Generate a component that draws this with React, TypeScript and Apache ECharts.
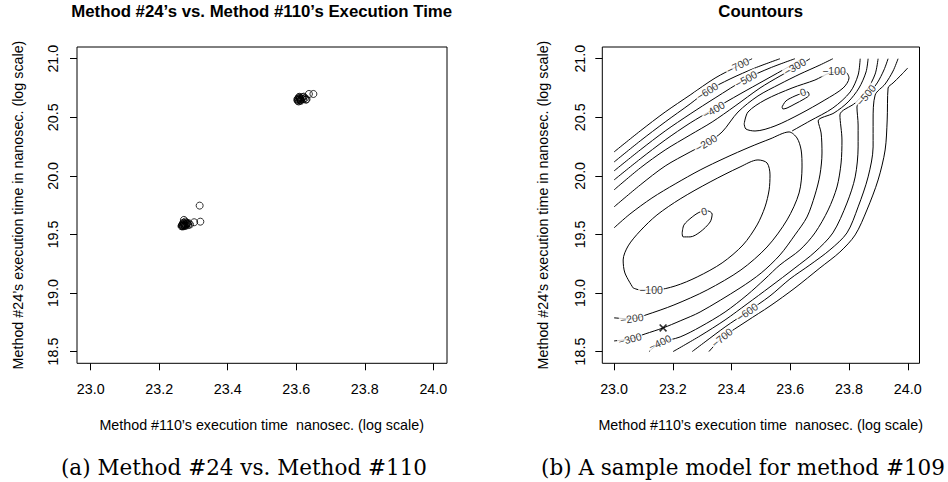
import { useEffect, useRef } from 'react';
import * as echarts from 'echarts';

// ---- axes ----
const xTickValues = [23.0, 23.2, 23.4, 23.6, 23.8, 24.0];
const yTickValues = [18.5, 19.0, 19.5, 20.0, 20.5, 21.0];

// ---- panel (a): observed points ----
const lowerClusterPoints = [
  [23.267, 19.573], [23.270, 19.575], [23.272, 19.580], [23.268, 19.585], [23.275, 19.578],
  [23.278, 19.575], [23.273, 19.590], [23.270, 19.600], [23.272, 19.624], [23.276, 19.610],
  [23.280, 19.590], [23.282, 19.595], [23.285, 19.580], [23.290, 19.585], [23.302, 19.604],
  [23.320, 19.609], [23.318, 19.746], [23.265, 19.570], [23.269, 19.568], [23.274, 19.572],
  [23.277, 19.585], [23.271, 19.595], [23.266, 19.578], [23.279, 19.600], [23.286, 19.596],
];
const upperClusterPoints = [
  [23.604, 20.640], [23.606, 20.648], [23.605, 20.660], [23.608, 20.670], [23.610, 20.655],
  [23.612, 20.645], [23.607, 20.635], [23.611, 20.665], [23.614, 20.650], [23.616, 20.660],
  [23.618, 20.672], [23.620, 20.655], [23.622, 20.676], [23.625, 20.662], [23.628, 20.650],
  [23.630, 20.654], [23.609, 20.675], [23.637, 20.699], [23.650, 20.699], [23.603, 20.652],
  [23.613, 20.640],
];

// ---- panel (b): contour lines (data coordinates) ----
const upperLeft700 = [[23.0, 20.204], [23.089, 20.383], [23.174, 20.545], [23.259, 20.690], [23.344, 20.835], [23.422, 20.938], [23.470, 21.0]];
const upperLeft600 = [[23.0, 20.118], [23.089, 20.298], [23.174, 20.460], [23.259, 20.614], [23.317, 20.724], [23.395, 20.827], [23.480, 20.921], [23.565, 21.0]];
const upperLeft500 = [[23.0, 20.042], [23.089, 20.221], [23.174, 20.383], [23.259, 20.528], [23.344, 20.665], [23.449, 20.827], [23.531, 20.921], [23.616, 21.0]];
const upperLeft400 = [[23.0, 19.965], [23.089, 20.144], [23.174, 20.306], [23.259, 20.451], [23.340, 20.571], [23.429, 20.699], [23.514, 20.818], [23.599, 20.938], [23.640, 21.0]];
const upperLeft300 = [[23.0, 19.880], [23.089, 20.067], [23.174, 20.221], [23.259, 20.349], [23.334, 20.460], [23.412, 20.596], [23.497, 20.750], [23.565, 20.852], [23.616, 20.921], [23.667, 21.0]];
const upperLeft200 = [[23.0, 19.735], [23.089, 19.922], [23.174, 20.084], [23.259, 20.204], [23.317, 20.281], [23.368, 20.375], [23.422, 20.545], [23.490, 20.682], [23.565, 20.784], [23.633, 20.869], [23.701, 20.946], [23.745, 21.0]];
const upperMode100 = [[23.443, 20.443], [23.456, 20.545], [23.514, 20.648], [23.606, 20.750], [23.684, 20.818], [23.735, 20.878], [23.787, 20.887], [23.800, 20.835], [23.780, 20.750], [23.718, 20.648], [23.633, 20.528], [23.548, 20.426], [23.480, 20.383], [23.449, 20.400], [23.443, 20.443]];
const upperMode0 = [[23.572, 20.588], [23.585, 20.639], [23.616, 20.682], [23.643, 20.707], [23.660, 20.716], [23.664, 20.690], [23.647, 20.656], [23.616, 20.614], [23.589, 20.579], [23.575, 20.571], [23.572, 20.588]];
const lowerMode0 = [[23.232, 19.513], [23.238, 19.581], [23.266, 19.649], [23.293, 19.692], [23.320, 19.700], [23.334, 19.674], [23.327, 19.606], [23.293, 19.521], [23.259, 19.479], [23.235, 19.479], [23.232, 19.513]];
const lowerMode100 = [[23.065, 19.043], [23.037, 19.171], [23.031, 19.282], [23.048, 19.402], [23.089, 19.530], [23.146, 19.666], [23.225, 19.803], [23.327, 19.948], [23.429, 20.076], [23.490, 20.136], [23.521, 20.110], [23.531, 20.008], [23.528, 19.880], [23.514, 19.735], [23.487, 19.581], [23.439, 19.410], [23.368, 19.257], [23.283, 19.137], [23.208, 19.060], [23.140, 19.026], [23.089, 19.026], [23.065, 19.043]];
const lowerMode200 = [[23.0, 19.556], [23.054, 19.674], [23.129, 19.811], [23.208, 19.931], [23.293, 20.050], [23.378, 20.153], [23.463, 20.247], [23.531, 20.315], [23.596, 20.375], [23.623, 20.323], [23.637, 20.221], [23.640, 20.076], [23.630, 19.854], [23.589, 19.624], [23.521, 19.393], [23.432, 19.197], [23.317, 19.026], [23.204, 18.898], [23.109, 18.813], [23.061, 18.779], [23.0, 18.788]];
const upperRight200 = [[23.838, 21.0], [23.831, 20.861], [23.804, 20.716], [23.745, 20.579], [23.667, 20.469], [23.606, 20.383]];
const right300 = [[23.865, 21.0], [23.858, 20.887], [23.834, 20.750], [23.797, 20.631], [23.749, 20.537], [23.695, 20.469], [23.705, 20.366], [23.708, 20.195], [23.701, 20.008], [23.684, 19.837], [23.657, 19.649], [23.616, 19.496], [23.565, 19.325], [23.501, 19.171], [23.429, 19.043], [23.293, 18.838], [23.225, 18.762], [23.167, 18.702], [23.106, 18.651], [23.054, 18.608], [23.0, 18.591]];
const right400 = [[23.899, 21.0], [23.889, 20.869], [23.861, 20.733], [23.821, 20.622], [23.769, 20.520], [23.776, 20.306], [23.773, 20.110], [23.759, 19.905], [23.729, 19.709], [23.684, 19.513], [23.633, 19.368], [23.565, 19.240], [23.514, 19.120], [23.453, 18.983], [23.378, 18.838], [23.293, 18.710], [23.225, 18.625], [23.157, 18.574], [23.119, 18.5]];
const right500 = [[23.933, 21.0], [23.919, 20.904], [23.896, 20.793], [23.861, 20.682], [23.827, 20.588], [23.831, 20.434], [23.831, 20.247], [23.821, 19.991], [23.793, 19.768], [23.745, 19.513], [23.684, 19.350], [23.616, 19.214], [23.531, 19.052], [23.453, 18.907], [23.378, 18.770], [23.293, 18.634], [23.201, 18.5]];
const right600 = [[23.967, 21.0], [23.950, 20.895], [23.923, 20.784], [23.889, 20.690], [23.882, 20.477], [23.882, 20.247], [23.865, 19.991], [23.831, 19.735], [23.793, 19.513], [23.735, 19.368], [23.667, 19.240], [23.599, 19.120], [23.531, 18.975], [23.453, 18.838], [23.378, 18.710], [23.310, 18.583], [23.266, 18.5]];
const right700 = [[24.0, 20.921], [23.974, 20.852], [23.950, 20.793], [23.933, 20.750], [23.930, 20.477], [23.923, 20.221], [23.899, 19.965], [23.861, 19.709], [23.821, 19.496], [23.769, 19.350], [23.701, 19.214], [23.616, 19.043], [23.531, 18.889], [23.453, 18.762], [23.368, 18.617], [23.323, 18.5]];

const contourLines = [
  upperLeft700, upperLeft600, upperLeft500, upperLeft400, upperLeft300, upperLeft200,
  upperMode100, upperMode0, lowerMode0, lowerMode100, lowerMode200, upperRight200,
  right300, right400, right500, right600, right700,
];

// contour labels: position (data coords) and text
const contourLabelTexts = ['−700', '−600', '−500', '−400', '−300', '−200', '−100', '0', '0', '−100', '−200', '−300', '−400', '−500', '−600', '−700'];
const contourLabelPoints = [
  [23.422, 20.938], [23.317, 20.724], [23.449, 20.827], [23.340, 20.562], [23.616, 20.929], [23.313, 20.281],
  [23.749, 20.895], [23.643, 20.716], [23.306, 19.700], [23.126, 19.026], [23.061, 18.779], [23.054, 18.608],
  [23.157, 18.574], [23.858, 20.690], [23.453, 18.838], [23.368, 18.617],
];
const contourLabelAngles = [27, 32, 29, 30, 30, 32, 0, 20, 15, 0, 8, 15, 25, 50, 35, 39];

// the "x" mark in panel (b)
const markedPoint = [[23.167, 18.702]];

const FONT = "'Liberation Sans', Arial, Helvetica, sans-serif";
const SERIF = "'DejaVu Serif', serif";

export default function App() {
  const ref = useRef<HTMLDivElement>(null);

  useEffect(() => {
    if (!ref.current) return;
    const chart = echarts.init(ref.current, undefined, { renderer: 'svg' });

    const makeX = (i: number) => ({
      type: 'value', gridIndex: i, min: 22.96, max: 24.04,
      axisLine: { show: false },
      splitLine: { show: false },
      axisTick: { show: true, inside: false, length: 7, customValues: xTickValues, lineStyle: { color: '#000', width: 1 } },
      axisLabel: {
        customValues: xTickValues, formatter: (v: number) => v.toFixed(1), margin: 19,
        fontSize: 14.3, color: '#000', fontFamily: FONT,
      },
    });
    const makeY = (i: number, margin: number) => ({
      type: 'value', gridIndex: i, min: 18.4, max: 21.1,
      axisLine: { show: false },
      splitLine: { show: false },
      axisTick: { show: true, inside: false, length: 7, customValues: yTickValues, lineStyle: { color: '#000', width: 1 } },
      axisLabel: {
        customValues: yTickValues, formatter: (v: number) => v.toFixed(1), margin,
        rotate: 90, align: 'center', verticalAlign: 'bottom',
        fontSize: 14.3, color: '#000', fontFamily: FONT,
      },
    });

    const labelStyle = {
      show: true, position: 'inside', fontSize: 10.5, fontFamily: FONT, color: '#000',
      textBorderWidth: 0, backgroundColor: '#fff', padding: [0, 1],
    };

    const series: any[] = [];
    series.push({
      type: 'scatter', xAxisIndex: 0, yAxisIndex: 0,
      data: [...lowerClusterPoints, ...upperClusterPoints],
      symbol: 'circle', symbolSize: 7, silent: true,
      itemStyle: { color: 'rgba(0,0,0,0)', borderColor: '#000', borderWidth: 1 },
    });
    contourLines.forEach((pts) => {
      series.push({
        type: 'line', xAxisIndex: 1, yAxisIndex: 1, data: pts,
        showSymbol: false, symbol: 'none', smooth: 0.3, silent: true, z: 2,
        lineStyle: { color: '#000', width: 1 },
      });
    });
    series.push({
      type: 'scatter', xAxisIndex: 1, yAxisIndex: 1, z: 5, silent: true,
      symbolSize: 1, itemStyle: { color: 'rgba(255,255,255,0)' },
      label: labelStyle,
      data: contourLabelPoints.map((p, i) => ({
        value: p,
        label: { ...labelStyle, formatter: contourLabelTexts[i], rotate: contourLabelAngles[i] },
      })),
    });
    series.push({
      type: 'scatter', xAxisIndex: 1, yAxisIndex: 1, z: 6, silent: true,
      data: markedPoint,
      symbol: 'path://M0,1.5L1.5,0L5,3.5L8.5,0L10,1.5L6.5,5L10,8.5L8.5,10L5,6.5L1.5,10L0,8.5L3.5,5Z',
      symbolSize: 8, itemStyle: { color: '#000' },
    });

    const txt = (text: string, x: number, y: number, extra: any = {}, rot = 0) => ({
      type: 'text', x, y, rotation: rot, silent: true,
      style: { text, fill: '#000', fontFamily: FONT, fontSize: 14.3, align: 'center', verticalAlign: 'middle', ...extra },
    });

    chart.setOption({
      animation: false,
      backgroundColor: '#fff',
      grid: [
        { left: 77, top: 47, width: 370, height: 316.3, show: true, borderColor: '#000', borderWidth: 1, backgroundColor: 'rgba(0,0,0,0)' },
        { left: 602.3, top: 47, width: 317.2, height: 316.3, show: true, borderColor: '#000', borderWidth: 1, backgroundColor: 'rgba(0,0,0,0)' },
      ],
      xAxis: [makeX(0), makeX(1)],
      yAxis: [makeY(0, 17), makeY(1, 15.5)],
      series,
      graphic: [
        txt('Method #24’s vs. Method #110’s Execution Time', 261.7, 11.7, { fontWeight: 'bold', fontSize: 16.8 }),
        txt('Countours', 760.7, 11.7, { fontWeight: 'bold', fontSize: 16.8 }),
        txt('Method #110’s execution time  nanosec. (log scale)', 261.7, 425),
        txt('Method #110’s execution time  nanosec. (log scale)', 760.7, 425),
        txt('Method #24’s execution time in nanosec. (log scale)', 17.5, 205, {}, Math.PI / 2),
        txt('Method #24’s execution time in nanosec. (log scale)', 543, 205, {}, Math.PI / 2),
        txt('(a) Method #24 vs. Method #110', 244, 467, { fontFamily: SERIF, fontSize: 21.5 }),
        txt('(b) A sample model for method #109', 743, 467, { fontFamily: SERIF, fontSize: 21.5 }),
      ],
    });

    return () => chart.dispose();
  }, []);

  return (
    <div
      ref={ref}
      style={{ position: 'absolute', left: 0, top: 0, width: 948, height: 482, background: '#fff' }}
    />
  );
}
